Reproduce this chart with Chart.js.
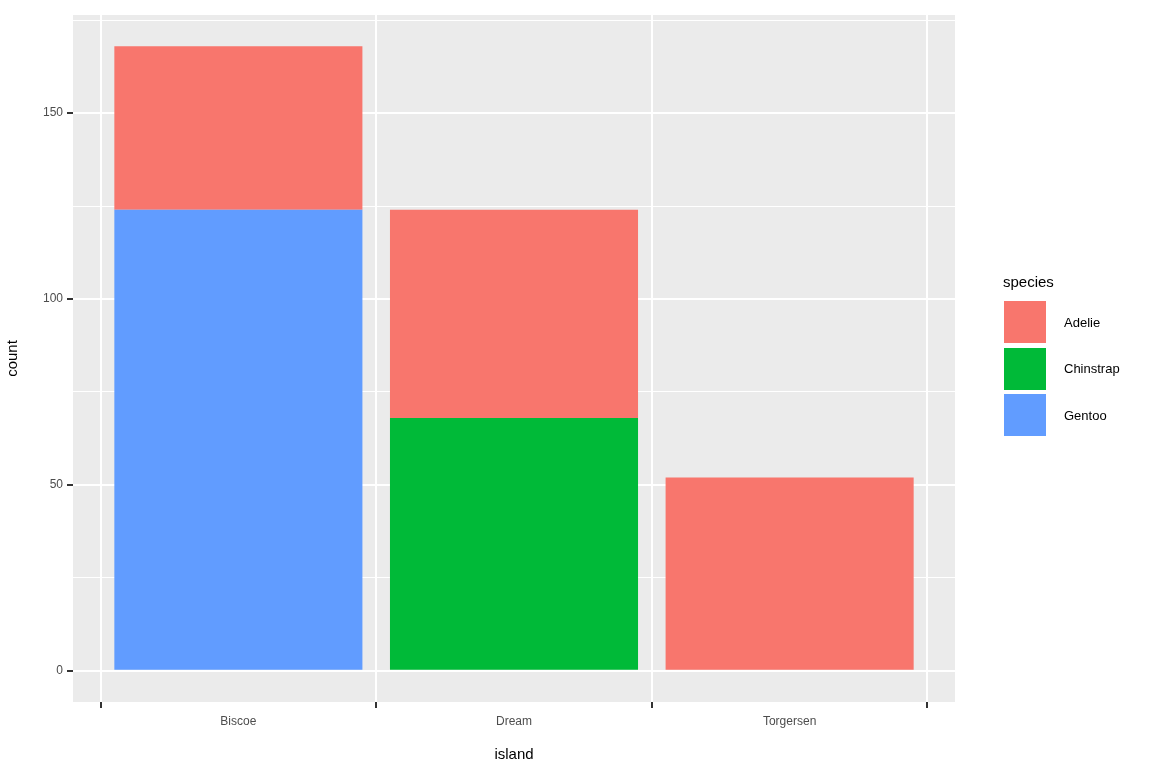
<!DOCTYPE html>
<html><head><meta charset="utf-8">
<script src="https://cdn.jsdelivr.net/npm/chart.js@4/dist/chart.umd.min.js"></script>
<style>
html,body{margin:0;padding:0;background:#fff;font-family:"Liberation Sans",Arial,sans-serif}
#wrap{position:relative;width:1152px;height:768px}
#legend{position:absolute;left:1003px;top:273px}
#legend .t{font-size:15px;color:#000;margin-bottom:9px}
#legend .i{display:flex;align-items:center;height:46.5px}
#legend .b{width:42px;height:42px;border:1.5px solid #fff;box-sizing:content-box;margin-right:17px}
#legend .l{font-size:13px;color:#000}
</style></head><body>
<div id="wrap"><canvas id="c" width="1152" height="768"></canvas>
<div id="legend"></div></div>
<script>
const islands=["Biscoe","Dream","Torgersen"];
const adelie=[44,56,52];
const chinstrap=[0,68,0];
const gentoo=[124,0,0];
const colors={Adelie:"#F8766D",Chinstrap:"#00BA38",Gentoo:"#619CFF"};
const pts=a=>a.map((v,i)=>({x:i+1,y:v}));
const lg=document.getElementById('legend');
lg.innerHTML='<div class="t">species</div>'+["Adelie","Chinstrap","Gentoo"].map(s=>`<div class="i"><div class="b" style="background:${colors[s]}"></div><div class="l">${s}</div></div>`).join('');
const bg={id:'bg',beforeDraw(ch){const a=ch.chartArea,c=ch.ctx;c.save();c.fillStyle='#EBEBEB';c.fillRect(a.left,a.top,a.right-a.left,a.bottom-a.top);c.restore();}};
const ds=(label,arr)=>({label,data:pts(arr),backgroundColor:colors[label],barPercentage:0.9,categoryPercentage:1,borderWidth:0});
new Chart(document.getElementById('c'),{
type:'bar',
data:{datasets:[ds('Gentoo',gentoo),ds('Chinstrap',chinstrap),ds('Adelie',adelie)]},
options:{responsive:false,animation:false,
layout:{padding:{left:0,right:197,top:15,bottom:0}},
plugins:{legend:{display:false},tooltip:{enabled:false}},
scales:{
x:{type:'linear',stacked:true,min:0.4,max:3.6,offset:false,
 afterBuildTicks(s){s.ticks=[1,2,3].map(v=>({value:v}));},
 afterFit(s){s.height=66;},
 border:{display:false},
 grid:{color:'#fff',lineWidth:2,tickColor:'#333',tickLength:6,drawTicks:true},
 ticks:{color:'#4D4D4D',font:{size:12,family:'Liberation Sans'},padding:6,callback:v=>islands[v-1]},
 title:{display:true,text:'island',color:'#000',font:{size:15,family:'Liberation Sans'},padding:{top:4}}},
y:{stacked:true,min:-8.4,max:176.4,
 afterBuildTicks(s){s.ticks=[0,25,50,75,100,125,150,175].map(v=>({value:v}));},
 afterFit(s){s.width=73;},
 border:{display:false},
 grid:{color:'#fff',lineWidth:c=>c.tick&&c.tick.value%50===0?2:1,tickColor:c=>c.tick&&c.tick.value%50===0?'#333':'rgba(0,0,0,0)',tickLength:6},
 ticks:{color:'#4D4D4D',font:{size:12,family:'Liberation Sans'},padding:4,callback:v=>v%50===0?String(v):''},
 title:{display:true,text:'count',color:'#000',font:{size:15,family:'Liberation Sans'},padding:{bottom:6}}}
}},
plugins:[bg]});
</script></body></html>
